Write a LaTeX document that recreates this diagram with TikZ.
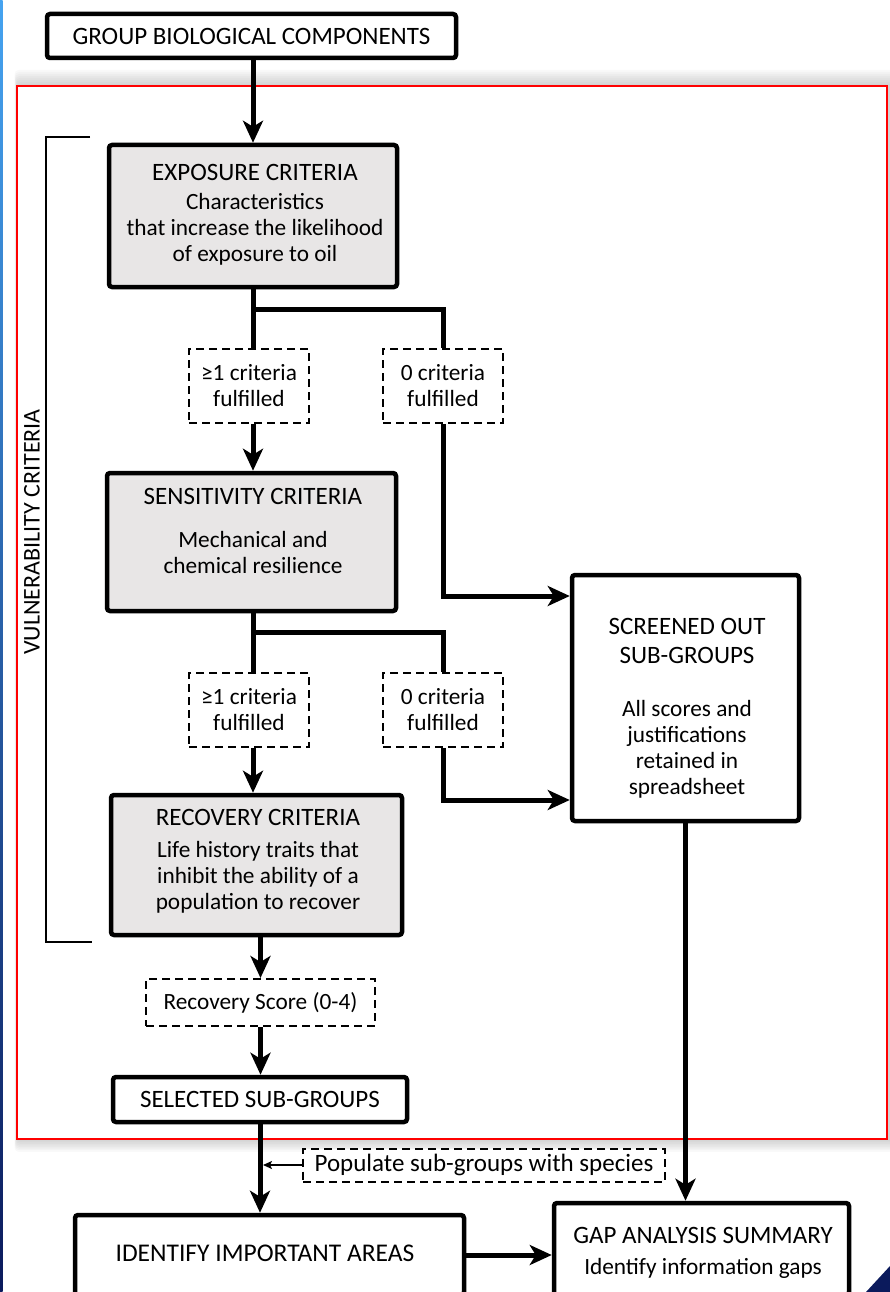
\documentclass[tikz,border=0pt]{standalone}
\usepackage{fontspec}
\setmainfont{Carlito}
\usetikzlibrary{arrows.meta,calc}
\definecolor{critgrey}{HTML}{E8E6E6}
\definecolor{navy}{HTML}{0B1A5C}
\definecolor{lblue}{HTML}{45A3F0}
\newcommand{\capsz}{\fontsize{25}{26}\selectfont}
\tikzset{
  box/.style={draw=black, line width=4.5pt, rounded corners=3pt, fill=white, inner sep=0pt},
  critbox/.style={box, fill=critgrey},
  dbox/.style={draw=black, line width=2pt, dash pattern=on 8pt off 5pt, fill=white, inner sep=0pt,
    align=center, font=\fontsize{23.3}{26}\selectfont},
  txt/.style={align=center, font=\fontsize{23.3}{26}\selectfont, inner sep=0pt},
  captxt/.style={align=center, font=\capsz, inner sep=0pt},
  ln/.style={line width=5pt},
  arr/.style={line width=5pt, -{Stealth[length=22pt,width=20pt,inset=6pt]}},
  thinarr/.style={line width=1.5pt, -{Stealth[length=9pt,width=8pt,inset=2pt]}},
}
\begin{document}
\begin{tikzpicture}[x=1pt,y=-1pt]
\useasboundingbox (0,0) rectangle (890,1292);
\clip (0,0) rectangle (890,1292);
% page edge decorations
\shade[top color=lblue, bottom color=navy] (0,0) rectangle (2.5,1292);
\fill[navy] (866,1292) -- (890,1266) -- (890,1292) -- cycle;
% shadow of red frame
\foreach \k in {1,...,8}{
  \fill[black, opacity=0.025, rounded corners=4pt] (17-\k*0.3, 86-\k*2) rectangle (895, 1139+\k*1.6);
}
\draw[red, line width=2pt, fill=white] (17,86) rectangle (887,1139);

% bracket and vertical label
\draw[line width=2pt] (90,137) -- (46,137) -- (46,942) -- (92,942);
\node[captxt, rotate=90, font=\fontsize{24}{26}\selectfont] (vuln) at (32,532) {VULNERABILITY CRITERIA};

% nodes
\node[box, minimum width=409pt, minimum height=44pt, captxt] (group) at (251.5,36) {GROUP BIOLOGICAL COMPONENTS};

\node[critbox, minimum width=288pt, minimum height=142pt] (exp) at (253,216) {};
\node[txt] (expT) at (255,215) {{\capsz EXPOSURE CRITERIA}\\[3pt]Characteristics\\that increase the likelihood\\of exposure to oil};

\node[dbox, minimum width=120pt, minimum height=74pt] (d1) at (249,386) {≥1 criteria\\fulfilled};
\node[dbox, minimum width=120pt, minimum height=74pt] (d2) at (443,386) {0 criteria\\fulfilled};

\node[critbox, minimum width=289pt, minimum height=138pt] (sens) at (251.5,542) {};
\node[txt] (sensT) at (253,531) {{\capsz SENSITIVITY CRITERIA}\\[17pt]Mechanical and\\chemical resilience};

\node[dbox, minimum width=120pt, minimum height=74pt] (d3) at (249,710) {≥1 criteria\\fulfilled};
\node[dbox, minimum width=120pt, minimum height=74pt] (d4) at (443,710) {0 criteria\\fulfilled};

\node[box, minimum width=227pt, minimum height=246pt] (scr) at (685.5,698) {};
\node[txt] (scrT) at (687,708) {{\capsz SCREENED OUT}\\[3pt]{\capsz SUB-GROUPS}\\[27pt]All scores and\\justifications\\retained in\\spreadsheet};

\node[critbox, minimum width=291pt, minimum height=140pt] (rec) at (256.5,865) {};
\node[txt] (recT) at (258,861) {{\capsz RECOVERY CRITERIA}\\[6pt]Life history traits that\\inhibit the ability of a\\population to recover};

\node[dbox, minimum width=229pt, minimum height=47pt] (score) at (260.5,1002.5) {Recovery Score (0-4)};

\node[box, minimum width=294pt, minimum height=45pt, captxt] (sel) at (260,1099.5) {SELECTED SUB-GROUPS};

\node[dbox, minimum width=362pt, minimum height=33pt, font=\capsz] (pop) at (484,1165) {Populate sub-groups with species};

\node[box, minimum width=389pt, minimum height=80pt] (idn) at (269.5,1255) {};
\node[captxt, font=\fontsize{25.5}{26}\selectfont] (idnT) at (265,1253) {IDENTIFY IMPORTANT AREAS};

\node[box, minimum width=295pt, minimum height=92pt] (gap) at (701.5,1249) {};
\node[txt] (gapT) at (703,1252.5) {{\capsz GAP ANALYSIS SUMMARY}\\[5pt]Identify information gaps};

% helper coordinates for branch heights
\coordinate (h1) at (0,309);
\coordinate (h2) at (0,596);
\coordinate (h3) at (0,632);
\coordinate (h4) at (0,800);

% connectors
\draw[arr] (group.south -| exp.north) -- (exp.north);
\draw[ln] (exp.south) -- (exp.south |- d1.north);
\draw[ln] (exp.south |- h1) -| (d2.north);
\draw[arr] (d1.south -| exp.south) -- (sens.north -| exp.south);
\draw[arr] (d2.south) |- (scr.west |- h2);

\draw[ln] (sens.south -| exp.south) -- (d3.north -| exp.south);
\draw[ln] (exp.south |- h3) -| (d4.north);
\draw[arr] (d3.south -| exp.south) -- (rec.north -| exp.south);
\draw[arr] (d4.south) |- (scr.west |- h4);

\draw[arr] (rec.south -| score.north) -- (score.north);
\draw[arr] (score.south) -- (score.south |- sel.north);
\draw[arr] (sel.south) -- (sel.south |- idn.north);
\draw[thinarr, shorten >=3pt] (pop.west) -- (pop.west -| sel.south);
\draw[arr] (scr.south) -- (scr.south |- gap.north);
\draw[arr] (idn.east) -- (idn.east -| gap.west);
\end{tikzpicture}
\end{document}
